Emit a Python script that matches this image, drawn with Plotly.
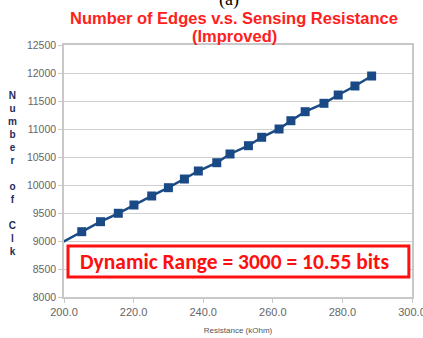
import plotly.graph_objects as go

resistance = [198.0, 205.1, 210.5, 215.6, 220.1, 225.2, 230.0, 234.6, 238.6, 243.9, 247.7,
              253.0, 256.8, 261.8, 265.2, 269.3, 274.7, 278.8, 283.6, 288.4]
edges = [8925, 9166, 9345, 9495, 9643, 9804, 9952, 10107, 10250, 10398, 10554,
         10702, 10852, 11000, 11148, 11309, 11459, 11607, 11768, 11946]
x_ticks = [200, 220, 240, 260, 280, 300]
y_ticks = list(range(8000, 12501, 500))
title_lines = ["Number of Edges v.s. Sensing Resistance", "(Improved)"]

fig = go.Figure()
fig.add_trace(go.Scatter(
    x=resistance, y=edges, mode="lines+markers",
    line=dict(color="#1a4a85", width=2.5),
    marker=dict(symbol="square", size=9, color="#1a4a85"),
    cliponaxis=True, showlegend=False,
))

fig.update_layout(
    width=423, height=338,
    margin=dict(l=64, r=11, t=45, b=41),
    paper_bgcolor="white", plot_bgcolor="white",
    font=dict(family="Liberation Sans, Arial", color="#555555"),
    xaxis=dict(range=[200, 300], tickvals=x_ticks, ticktext=[f"{v:.1f}" for v in x_ticks],
               showgrid=False, showline=True, linecolor="#c8c8c8", linewidth=1.5,
               ticks="outside", ticklen=4, tickcolor="#c8c8c8", automargin=False,
               ticklabeloverflow="allow",
               tickfont=dict(size=11, color="#666666"), mirror=True,
               title=dict(text="Resistance (kOhm)", font=dict(size=8, color="#555555"), standoff=10)),
    yaxis=dict(range=[8000, 12500], tickvals=y_ticks, ticktext=[str(v) for v in y_ticks],
               showgrid=True, gridcolor="#d0d0d0", gridwidth=1, automargin=False,
               showline=True, linecolor="#c8c8c8", linewidth=1.5, mirror=True,
               ticks="outside", ticklen=4, tickcolor="#c8c8c8",
               tickfont=dict(size=10.5, color="#666666")),
)

for txt, yy in zip(title_lines, [1.107, 1.036]):
    fig.add_annotation(text="<b>" + txt + "</b>", xref="paper", yref="paper",
                       x=0.489, y=yy, xanchor="center", yanchor="middle", showarrow=False,
                       font=dict(size=16.5, color="#ff2020", family="Liberation Sans, Arial"))

ylabel = "<br>".join(list("Number")) + "<br> <br>" + "<br>".join(list("of")) + "<br> <br>" + "<br>".join(list("Clk"))
fig.add_annotation(text="<b>" + ylabel + "</b>", xref="paper", yref="paper",
                   x=-0.149, y=0.49, xanchor="center", yanchor="middle", showarrow=False,
                   font=dict(size=10, color="#1f2a5a", family="Liberation Sans, Arial"))

fig.add_annotation(text="(a)", xref="paper", yref="paper", x=0.474, y=1.131,
                   xanchor="center", yanchor="bottom", showarrow=False,
                   font=dict(size=18, color="#000000", family="Liberation Serif, Times New Roman"))

fig.add_shape(type="rect", xref="paper", yref="paper",
              x0=0.0115, x1=0.991, y0=0.079, y1=0.202,
              line=dict(color="#ff1010", width=3), fillcolor="white")
fig.add_annotation(text="<b>Dynamic Range = 3000 = 10.55 bits</b>", xref="paper", yref="paper",
                   x=0.04, y=0.139, xanchor="left", yanchor="middle", showarrow=False,
                   font=dict(size=21.5, color="#ff1010", family="Carlito, Liberation Sans, Arial"))

fig.write_html("out.html", config={"displayModeBar": False},
               post_script="document.body.style.margin='0';document.body.style.overflow='hidden';")
